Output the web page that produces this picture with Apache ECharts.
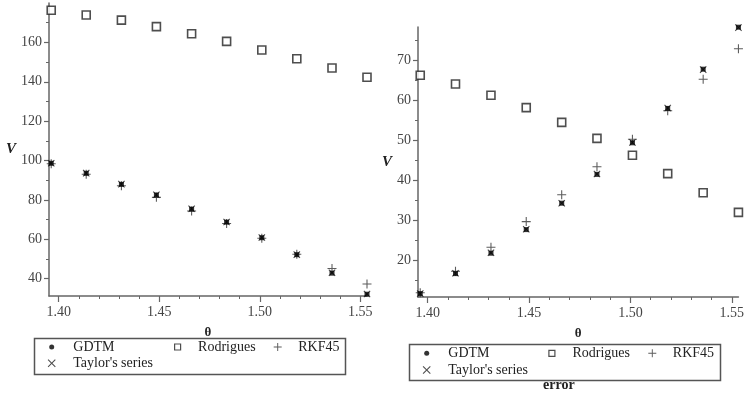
<!DOCTYPE html>
<html>
<head>
<meta charset="utf-8">
<script src="https://cdn.jsdelivr.net/npm/echarts@6/dist/echarts.min.js"></script>
<style>
  html, body { margin: 0; padding: 0; background: #fff; }
  #chart { width: 747px; height: 394px; }
</style>
</head>
<body>
<div id="chart"></div>
<script>
// theta values (rad), 80..89 degrees
const theta = [1.3963, 1.4137, 1.4312, 1.4486, 1.4661, 1.4835, 1.5010, 1.5184, 1.5359, 1.5533]

// left panel
const gdtmLeft = [98.6, 93.5, 87.9, 82.5, 75.3, 68.7, 60.8, 52.2, 42.8, 32.1]
const rodLeft = [176.3, 173.9, 171.3, 168.0, 164.4, 160.5, 156.1, 151.7, 147.0, 142.3]
const rkfLeft = [98.4, 93.0, 87.2, 81.3, 74.4, 68.0, 60.5, 52.4, 45.2, 37.3]
const taylorLeft = [98.6, 93.6, 88.0, 82.6, 75.5, 68.8, 60.9, 52.2, 43.0, 32.2]

// right panel
const gdtmRight = [11.6, 16.6, 21.7, 27.6, 34.2, 41.4, 49.3, 57.9, 67.7, 78.2]
const rodRight = [66.2, 64.0, 61.2, 58.1, 54.4, 50.4, 46.2, 41.6, 36.8, 31.9]
const rkfRight = [11.8, 17.2, 23.2, 29.6, 36.3, 43.3, 50.2, 57.3, 65.2, 72.8]
const taylorRight = [11.6, 16.7, 21.8, 27.7, 34.2, 41.5, 49.4, 58.0, 67.6, 78.1]

// tick labels
const xTicks = [1.40, 1.45, 1.50, 1.55]
const xMinor = [1.40, 1.41, 1.42, 1.43, 1.44, 1.45, 1.46, 1.47, 1.48, 1.49, 1.50, 1.51, 1.52, 1.53, 1.54, 1.55]
const yTicksLeft = [40, 60, 80, 100, 120, 140, 160]
const yMinorLeft = [40, 50, 60, 70, 80, 90, 100, 110, 120, 130, 140, 150, 160, 170]
const yTicksRight = [20, 30, 40, 50, 60, 70]
const yMinorRight = [15, 20, 25, 30, 35, 40, 45, 50, 55, 60, 65, 70, 75]

const serif = '"Liberation Serif", "DejaVu Serif", serif'
const axisColor = '#666'
const labelColor = '#444'

const pair = (ys) => theta.map((t, i) => [t, ys[i]])

const plusPath = 'path://M4.4,0H5.6V4.4H10V5.6H5.6V10H4.4V5.6H0V4.4H4.4Z'
const crossPath = 'path://M1.5,0.7L5,4.2L8.5,0.7L9.3,1.5L5.8,5L9.3,8.5L8.5,9.3L5,5.8L1.5,9.3L0.7,8.5L4.2,5L0.7,1.5Z'

const mainX = (grid) => ({
    gridIndex: grid, type: 'value', min: 1.3952, max: 1.5533,
    position: 'bottom',
    axisLine: {show: true, lineStyle: {color: axisColor, width: 1.5}},
    axisTick: {show: true, customValues: xTicks, length: 6, lineStyle: {color: axisColor, width: 1.2}},
    axisLabel: {customValues: xTicks, formatter: v => v.toFixed(2), margin: 9,
        color: labelColor, fontFamily: serif, fontSize: 14},
    splitLine: {show: false},
    name: 'θ', nameLocation: 'middle', nameGap: 30,
    nameTextStyle: {fontFamily: serif, fontWeight: 'bold', fontSize: 13, color: '#222'}
})
const minorX = (grid) => ({
    gridIndex: grid, type: 'value', min: 1.3952, max: 1.5533, position: 'bottom',
    axisLine: {show: false},
    axisTick: {show: true, customValues: xMinor, length: 3, lineStyle: {color: axisColor}},
    axisLabel: {show: false}, splitLine: {show: false}
})
const mainY = (grid, min, max, ticks, gap) => ({
    gridIndex: grid, type: 'value', min: min, max: max, position: 'left',
    axisLine: {show: true, lineStyle: {color: axisColor, width: 1.5}},
    axisTick: {show: true, customValues: ticks, length: 5, lineStyle: {color: axisColor, width: 1.2}},
    axisLabel: {customValues: ticks, margin: 7, color: labelColor, fontFamily: serif, fontSize: 14},
    splitLine: {show: false},
    name: 'V', nameLocation: 'middle', nameRotate: 0, nameGap: gap,
    nameTextStyle: {fontFamily: serif, fontStyle: 'italic', fontWeight: 'bold', fontSize: 15, color: '#222'}
})
const minorY = (grid, min, max, ticks) => ({
    gridIndex: grid, type: 'value', min: min, max: max, position: 'left', offset: 0,
    axisLine: {show: false},
    axisTick: {show: true, customValues: ticks, length: 3, lineStyle: {color: axisColor}},
    axisLabel: {show: false}, splitLine: {show: false}
})

const makeSeries = (name, data, xi, yi, style) => Object.assign({
    name: name, type: 'scatter', xAxisIndex: xi, yAxisIndex: yi, data: data,
    animation: false
}, style)

const rodStyle = {symbol: 'rect', symbolSize: 8,
    itemStyle: {color: '#fff', borderColor: '#222', borderWidth: 1.6}}
const rkfStyle = {symbol: plusPath, symbolSize: 9, itemStyle: {color: '#333'}}
const taylorStyle = {symbol: plusPath, symbolSize: 9, symbolRotate: 45, itemStyle: {color: '#222'}}
const gdtmStyle = {symbol: 'rect', symbolSize: 5, itemStyle: {color: '#000'}}

// one legend per entry, so each sits where the reference puts it
const makeLegend = (name, icon, size, cx, cy, textX) => {
    const left = cx - size / 2
    return {
        data: [{name: name, icon: icon}],
        left: left, top: cy - 8, padding: 0,
        itemWidth: size, itemHeight: size,
        selectedMode: false,
        itemStyle: {borderWidth: 1.2},
        textStyle: {fontFamily: serif, fontSize: 14, color: '#222', lineHeight: 16,
            padding: [0, 0, 0, textX - (left + size + 5)]}
    }
}
const legendsFor = (x0, y1, y2, dx) => [
    makeLegend('GDTM', 'circle', 5, x0, y1, x0 + 21.6),
    makeLegend('Rodrigues', 'rect', 6, x0 + dx[0], y1, x0 + dx[0] + 20.5),
    makeLegend('RKF45', plusPath, 8, x0 + dx[1], y1, x0 + dx[1] + 20.5),
    makeLegend("Taylor's series", crossPath, 8, x0, y2, x0 + 21.6)
]

const myChart = echarts.init(document.getElementById('chart'))
const option = {
    backgroundColor: '#fff',
    animation: false,
    grid: [
        {left: 49, top: 3, width: 318, height: 293},
        {left: 418, top: 27, width: 325, height: 270}
    ],
    xAxis: [mainX(0), mainX(1), minorX(0), minorX(1)],
    yAxis: [
        mainY(0, 31.2, 180, yTicksLeft, 27),
        mainY(1, 10.75, 78.25, yTicksRight, 24),
        minorY(0, 31.2, 180, yMinorLeft),
        minorY(1, 10.75, 78.25, yMinorRight)
    ],
    legend: [
        ...legendsFor(51.7, 347, 363.3, [125.3, 226]),
        ...legendsFor(426.7, 353.3, 370, [124.6, 225.6])
    ],
    series: [
        makeSeries('Rodrigues', pair(rodLeft), 0, 0, rodStyle),
        makeSeries('RKF45', pair(rkfLeft), 0, 0, rkfStyle),
        makeSeries("Taylor's series", pair(taylorLeft), 0, 0, taylorStyle),
        makeSeries('GDTM', pair(gdtmLeft), 0, 0, gdtmStyle),
        makeSeries('Rodrigues', pair(rodRight), 1, 1, rodStyle),
        makeSeries('RKF45', pair(rkfRight), 1, 1, rkfStyle),
        makeSeries("Taylor's series", pair(taylorRight), 1, 1, taylorStyle),
        makeSeries('GDTM', pair(gdtmRight), 1, 1, gdtmStyle)
    ],
    graphic: [
        {type: 'rect', left: 32, top: 336, shape: {width: 311, height: 36},
            style: {fill: 'none', stroke: '#555', lineWidth: 1.5}, z: -1},
        {type: 'rect', left: 407, top: 342, shape: {width: 311, height: 36},
            style: {fill: 'none', stroke: '#555', lineWidth: 1.5}, z: -1},
        {type: 'text', left: 543, top: 378,
            style: {text: 'error', font: 'bold 14px ' + serif, fill: '#222'}}
    ]
}
myChart.setOption(option)
</script>
</body>
</html>
